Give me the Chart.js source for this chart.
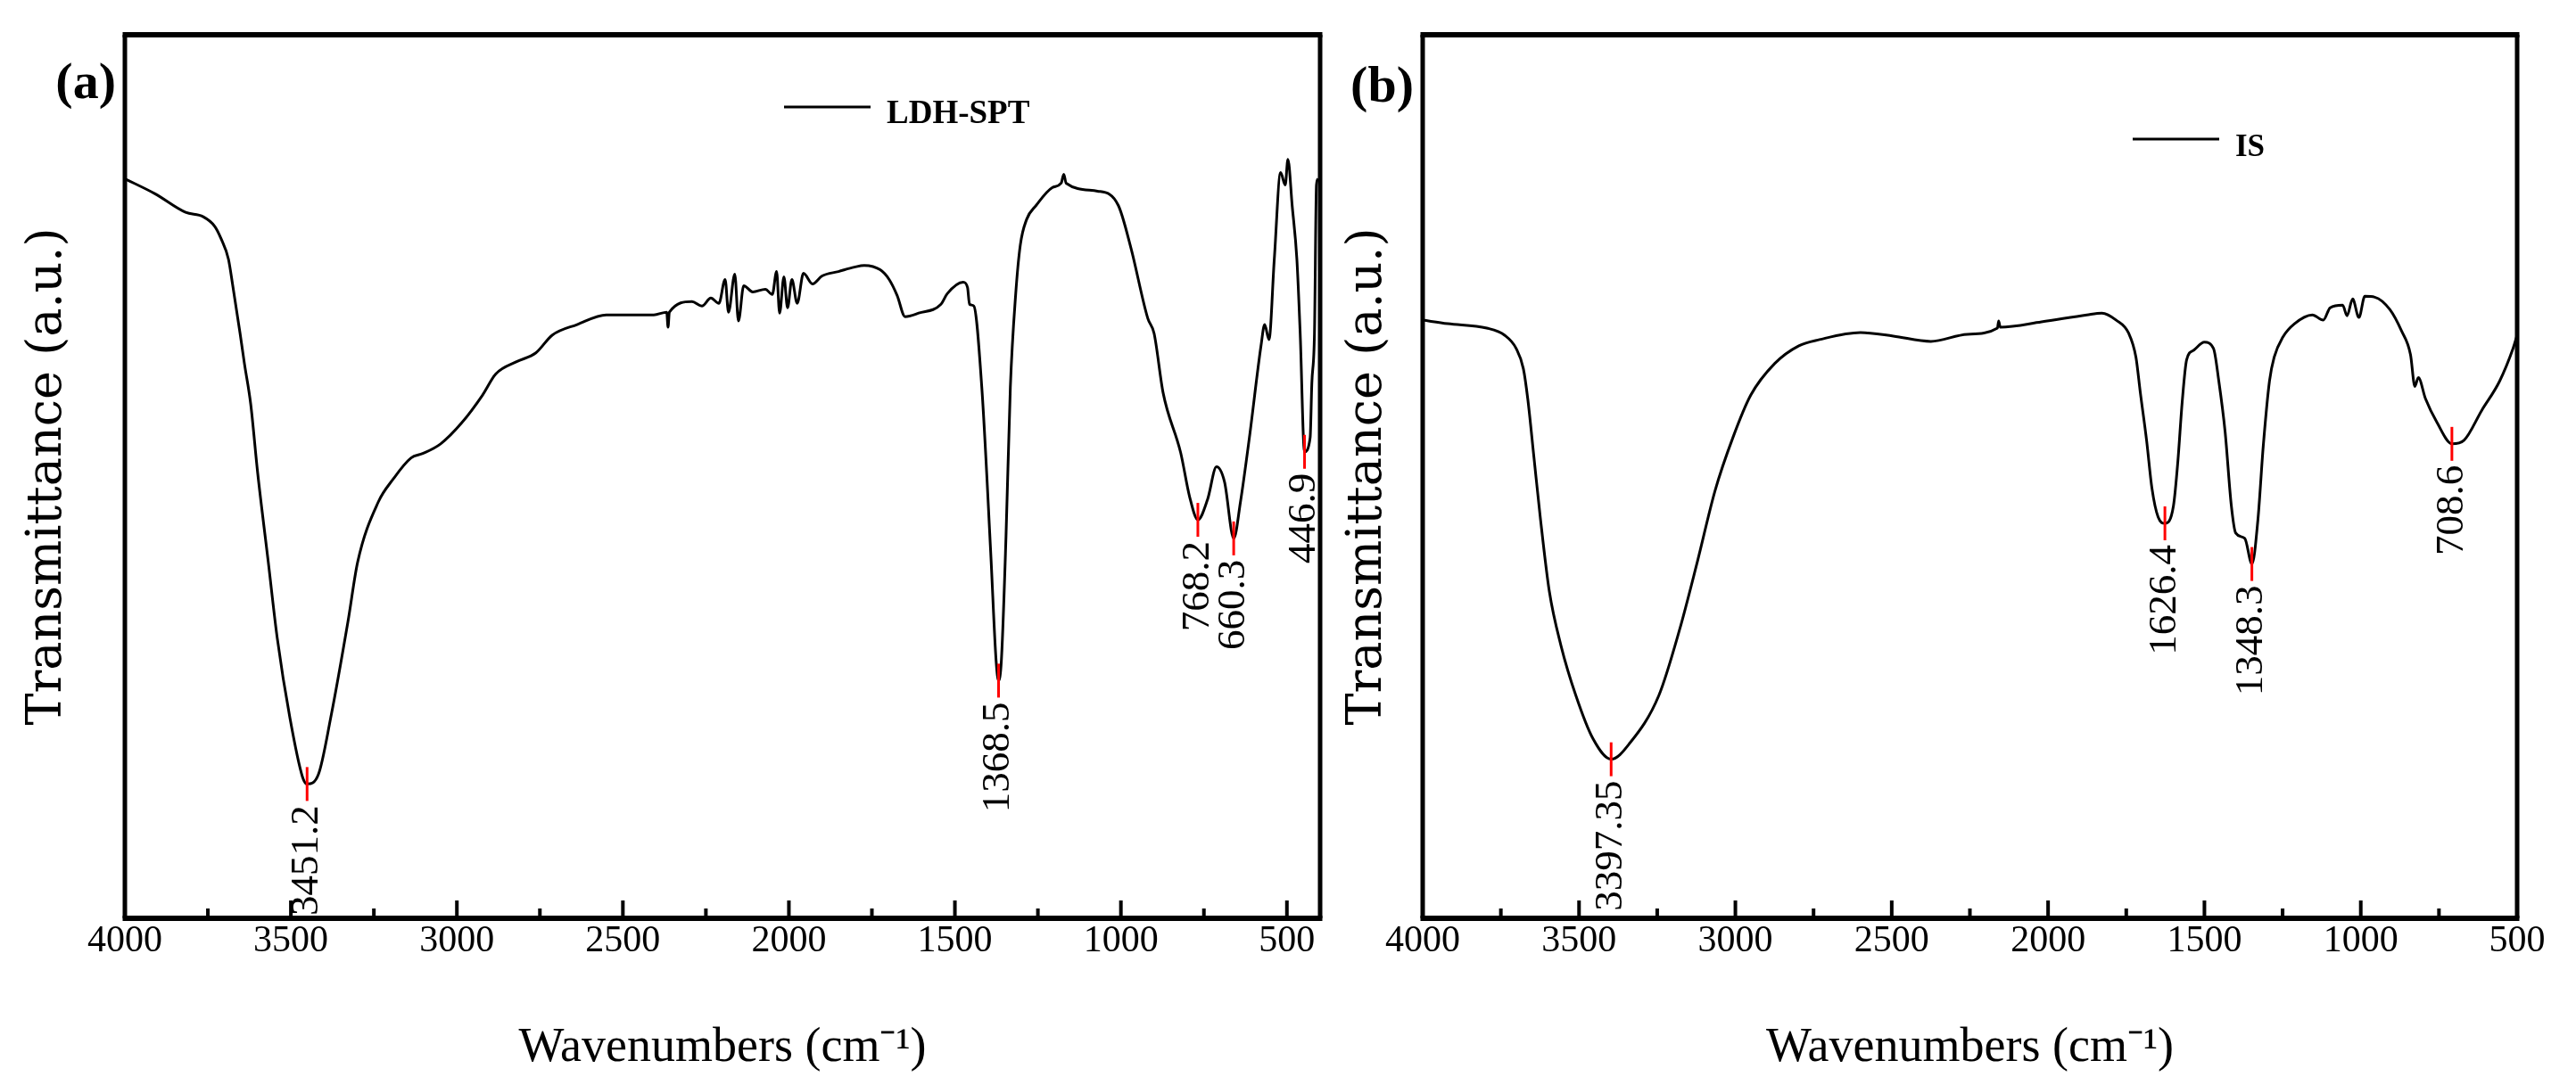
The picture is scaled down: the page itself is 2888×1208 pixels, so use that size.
<!DOCTYPE html>
<html><head><meta charset="utf-8">
<script src="https://cdn.jsdelivr.net/npm/chart.js@4.4.1/dist/chart.umd.min.js"></script>
<style>
html,body{margin:0;padding:0;background:#fff;width:2888px;height:1208px;overflow:hidden}
.pane{position:absolute;top:0;height:1208px}
#wa{left:0;width:1500px}
#wb{left:1490px;width:1398px}
canvas{display:block}
</style></head><body>
<div class="pane" id="wa"><canvas id="ca"></canvas></div>
<div class="pane" id="wb"><canvas id="cb"></canvas></div>
<script>
// ---------- data: panel (a) LDH-SPT ----------
const wavenumbersA = [4000,3909,3817,3764,3729,3710,3688,3675,3653,3640,3621,3600,3568,3541,3503,3465,3451,3417,3380,3328,3299,3237,3192,3138,3103,3049,2985,2923,2883,2820,2762,2713,2638,2550,2474,2407,2368,2364,2360,2292,2262,2235,2211,2192,2182,2163,2152,2136,2109,2071,2050,2037,2028,2015,2004,1991,1975,1956,1929,1900,1851,1803,1773,1725,1698,1674,1650,1609,1542,1523,1475,1462,1456,1443,1419,1392,1376,1368.5,1360,1346,1333,1317,1303,1284,1255,1207,1180,1172,1165,1070,1008,970,919,900,873,820,793,768,739,712,688,660,640,613,578,567,554,538,519,505,497,484,470,460,447,430,425,417,411,406];
const transmittanceA = [83.7,82.0,79.9,79.4,78.3,76.9,74.6,71.6,66.2,62.8,58.2,50.4,40.3,31.7,22.7,16.0,15.2,16.3,22.7,33.6,40.3,47.1,49.7,52.1,52.6,53.7,56.1,59.2,61.6,63.0,64.0,66.0,67.2,68.3,68.3,68.3,68.6,66.9,68.6,69.8,69.3,70.2,69.6,72.3,68.6,72.9,67.6,71.6,70.9,71.2,70.6,73.2,68.5,72.6,69.1,72.3,69.6,73.0,71.8,72.7,73.2,73.7,73.9,73.4,72.3,70.5,68.1,68.5,69.5,70.7,72.0,71.4,69.5,69.3,60.1,41.3,29.2,26.9,29.2,43.3,60.1,70.6,76.2,79.1,80.7,82.7,83.2,84.2,83.2,82.3,80.7,75.9,67.9,66.2,59.5,52.7,47.7,45.1,47.4,51.1,49.4,43.0,47.1,54.4,64.8,67.2,65.5,74.6,84.4,83.0,85.9,80.6,74.6,66.2,52.8,54.4,60.5,66.2,83.0,83.7];
const peaksA = [3451.2, 1368.5, 768.2, 660.3, 446.9];
const peakTA = [15.2, 26.9, 45.1, 43.0, 52.8];
const peakLabelsA = ['3451.2', '1368.5', '768.2', '660.3', '446.9'];

// ---------- data: panel (b) IS ----------
const wavenumbersB = [4000,3920,3795,3738,3701,3678,3664,3644,3624,3595,3558,3510,3455,3397,3336,3245,3179,3122,3065,3008,2951,2874,2797,2731,2600,2495,2375,2258,2162,2158,2153,2021,1876,1828,1782,1742,1719,1705,1685,1668,1648,1626,1599,1585,1571,1557,1534,1500,1471,1454,1434,1414,1400,1371,1348,1329,1312,1292,1277,1249,1212,1155,1120,1098,1058,1044,1026,1006,987,955,907,870,841,827,816,793,756,708,670,613,556,513,500];
const transmittanceB = [67.7,67.3,66.8,66.0,64.5,62.2,58.8,52.1,45.4,37.0,30.9,25.2,20.3,18.0,19.9,25.2,32.6,40.3,48.4,54.4,59.2,62.8,64.8,65.5,66.3,65.9,65.3,66.1,66.8,67.6,66.9,67.5,68.3,68.5,67.7,66.2,63.5,59.5,54.1,48.7,45.4,44.7,46.7,51.7,58.5,63.2,64.3,65.2,64.5,60.8,55.1,46.7,43.6,43.0,40.1,45.1,53.4,60.8,63.5,65.8,67.3,68.3,67.7,69.1,69.4,68.2,70.1,68.0,70.4,70.3,68.9,66.5,63.8,60.2,61.2,58.8,56.1,53.7,54.1,57.5,60.8,64.5,66.0];
const peaksB = [3397.35, 1626.4, 1348.3, 708.6];
const peakTB = [18.0, 44.7, 40.1, 53.7];
const peakLabelsB = ['3397.35', '1626.4', '1348.3', '708.6'];

// ---------- axis ticks ----------
const xTickValues = [4000, 3500, 3000, 2500, 2000, 1500, 1000, 500];
const xMinorTickValues = [3750, 3250, 2750, 2250, 1750, 1250, 750];

// ---------- plugins ----------
const framePlugin = {
  id: 'frame',
  afterDatasetsDraw(chart) {
    const {ctx, chartArea: {left, right, top, bottom}, scales: {x}} = chart;
    ctx.save();
    ctx.strokeStyle = '#000';
    ctx.lineCap = 'butt';
    ctx.lineWidth = 5;
    ctx.beginPath();
    ctx.moveTo(left, top); ctx.lineTo(left, bottom);
    ctx.moveTo(right, top); ctx.lineTo(right, bottom);
    ctx.stroke();
    ctx.lineWidth = 6;
    ctx.beginPath(); ctx.moveTo(left - 2.5, top); ctx.lineTo(right + 2.5, top); ctx.stroke();
    ctx.beginPath(); ctx.moveTo(left - 2.5, bottom); ctx.lineTo(right + 2.5, bottom); ctx.stroke();
    ctx.lineWidth = 4;
    ctx.beginPath();
    xTickValues.forEach(v => {
      const p = x.getPixelForValue(v);
      if (p > left + 3 && p < right - 3) { ctx.moveTo(p, bottom); ctx.lineTo(p, bottom - 20); }
    });
    xMinorTickValues.forEach(v => {
      const p = x.getPixelForValue(v);
      if (p > left + 3 && p < right - 3) { ctx.moveTo(p, bottom); ctx.lineTo(p, bottom - 11); }
    });
    ctx.stroke();
    ctx.restore();
  }
};

const peakPlugin = {
  id: 'peakMarks',
  afterDatasetsDraw(chart, args, opts) {
    const {ctx, scales: {x, y}} = chart;
    ctx.save();
    opts.values.forEach((v, i) => {
      const px = x.getPixelForValue(v);
      const py = y.getPixelForValue(opts.t[i]);
      ctx.strokeStyle = '#ff0000';
      ctx.lineWidth = 3;
      ctx.beginPath(); ctx.moveTo(px, py - 19); ctx.lineTo(px, py + 19); ctx.stroke();
      ctx.save();
      ctx.translate(px, py + 24);
      ctx.rotate(-Math.PI / 2);
      ctx.fillStyle = '#000';
      ctx.font = '45px "Liberation Serif"';
      ctx.textAlign = 'right';
      ctx.textBaseline = 'middle';
      ctx.fillText(opts.labels[i], 0, 0);
      ctx.restore();
    });
    ctx.restore();
  }
};

const keyPlugin = {
  id: 'lineKey',
  afterDatasetsDraw(chart, args, opts) {
    const {ctx, chartArea: {left, top}} = chart;
    const ds = chart.data.datasets[0];
    ctx.save();
    ctx.strokeStyle = '#000';
    ctx.lineWidth = 3;
    ctx.beginPath();
    ctx.moveTo(left + opts.dx, top + opts.lineDy);
    ctx.lineTo(left + opts.dx + 97, top + opts.lineDy);
    ctx.stroke();
    ctx.fillStyle = '#000';
    ctx.font = 'bold ' + opts.size + 'px "Liberation Serif"';
    ctx.textAlign = 'left';
    ctx.textBaseline = 'middle';
    ctx.fillText(ds.label, left + opts.dx + 115, top + opts.textDy);
    ctx.restore();
  }
};

const tagPlugin = {
  id: 'panelTag',
  afterDraw(chart, args, opts) {
    const {ctx, chartArea: {left}} = chart;
    ctx.save();
    ctx.fillStyle = '#000';
    ctx.font = 'bold 58px "Liberation Serif"';
    ctx.textAlign = 'right';
    ctx.textBaseline = 'middle';
    ctx.fillText(opts.text, left - 10, opts.y);
    ctx.restore();
  }
};

function makeChart(id, wn, tv, label, xmin, cfg) {
  return new Chart(document.getElementById(id), {
    type: 'line',
    data: {
      datasets: [{
        label: label,
        data: wn.map((w, i) => ({x: w, y: tv[i]})),
        borderColor: '#000',
        borderWidth: 3,
        pointRadius: 0,
        cubicInterpolationMode: 'monotone',
        fill: false
      }]
    },
    options: {
      responsive: true,
      maintainAspectRatio: false,
      animation: false,
      devicePixelRatio: 1,
      layout: {padding: {top: 39, right: cfg.padRight, bottom: 0, left: 0}},
      plugins: {
        legend: {display: false},
        tooltip: {enabled: false},
        peakMarks: cfg.peaks,
        lineKey: cfg.key,
        panelTag: cfg.tag
      },
      scales: {
        x: {
          type: 'linear',
          reverse: true,
          min: xmin,
          max: 4000,
          afterBuildTicks: s => { s.ticks = xTickValues.map(v => ({value: v})); },
          afterFit: s => { s.height = 178; },
          grid: {display: false, drawTicks: false},
          border: {display: false},
          ticks: {
            autoSkip: false, maxRotation: 0, padding: 1, color: '#000',
            font: {family: 'Liberation Serif', size: 42},
            callback: v => String(v)
          },
          title: {
            display: true, text: 'Wavenumbers (cm\u207B\u00B9)', color: '#000',
            font: {family: 'Liberation Serif', size: 54},
            padding: {top: 0, bottom: 0}
          }
        },
        y: {
          min: 0,
          max: 100,
          afterFit: s => { s.width = cfg.axisWidth; },
          grid: {display: false},
          border: {display: false},
          ticks: {display: false},
          title: {
            display: true, text: 'Transmittance (a.u.)', color: '#000',
            font: {family: 'DejaVu Serif', size: 54},
            padding: {top: cfg.titlePad, bottom: 0}
          }
        }
      }
    },
    plugins: [framePlugin, peakPlugin, keyPlugin, tagPlugin]
  });
}

makeChart('ca', wavenumbersA, transmittanceA, 'LDH-SPT', 400, {
  padRight: 20, axisWidth: 140, titlePad: 22,
  peaks: {values: peaksA, t: peakTA, labels: peakLabelsA},
  key: {dx: 739, lineDy: 81, textDy: 89, size: 37},
  tag: {text: '(a)', y: 95}
});
makeChart('cb', wavenumbersB, transmittanceB, 'IS', 500, {
  padRight: 66, axisWidth: 105, titlePad: 12,
  peaks: {values: peaksB, t: peakTB, labels: peakLabelsB},
  key: {dx: 796, lineDy: 117, textDy: 127, size: 35},
  tag: {text: '(b)', y: 99}
});
</script>
</body></html>
